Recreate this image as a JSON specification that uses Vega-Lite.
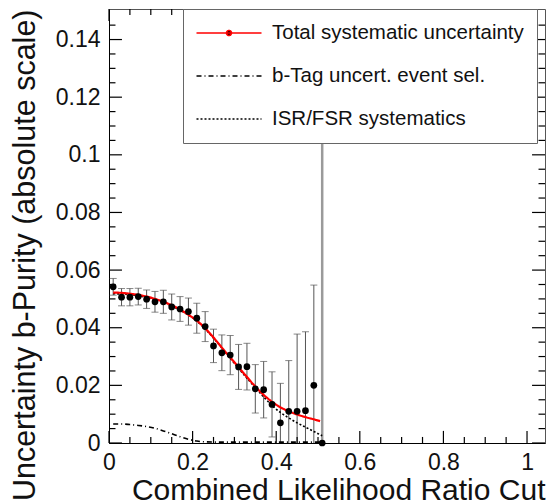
{
  "$schema": "https://vega.github.io/schema/vega-lite/v6.json",
  "width": 436,
  "height": 434,
  "autosize": "none",
  "padding": {"left": 109, "top": 9, "right": 4, "bottom": 61},
  "background": "white",
  "config": {
    "view": {"stroke": "#555", "strokeWidth": 1},
    "font": "Liberation Sans",
    "axis": {"labelFont": "Liberation Sans", "titleFont": "Liberation Sans", "grid": false}
  },
  "datasets": {
    "xticks": [
      {"v": 0, "kind": "major"}, {"v": 0.05, "kind": "minor"}, {"v": 0.1, "kind": "minor"}, {"v": 0.15, "kind": "minor"},
      {"v": 0.2, "kind": "major"}, {"v": 0.25, "kind": "minor"}, {"v": 0.3, "kind": "minor"}, {"v": 0.35, "kind": "minor"},
      {"v": 0.4, "kind": "major"}, {"v": 0.45, "kind": "minor"}, {"v": 0.5, "kind": "minor"}, {"v": 0.55, "kind": "minor"},
      {"v": 0.6, "kind": "major"}, {"v": 0.65, "kind": "minor"}, {"v": 0.7, "kind": "minor"}, {"v": 0.75, "kind": "minor"},
      {"v": 0.8, "kind": "major"}, {"v": 0.85, "kind": "minor"}, {"v": 0.9, "kind": "minor"}, {"v": 0.95, "kind": "minor"},
      {"v": 1.0, "kind": "major"}
    ],
    "yticks": [
      {"v": 0, "kind": "major"}, {"v": 0.005, "kind": "minor"}, {"v": 0.01, "kind": "minor"}, {"v": 0.015, "kind": "minor"},
      {"v": 0.02, "kind": "major"}, {"v": 0.025, "kind": "minor"}, {"v": 0.03, "kind": "minor"}, {"v": 0.035, "kind": "minor"},
      {"v": 0.04, "kind": "major"}, {"v": 0.045, "kind": "minor"}, {"v": 0.05, "kind": "minor"}, {"v": 0.055, "kind": "minor"},
      {"v": 0.06, "kind": "major"}, {"v": 0.065, "kind": "minor"}, {"v": 0.07, "kind": "minor"}, {"v": 0.075, "kind": "minor"},
      {"v": 0.08, "kind": "major"}, {"v": 0.085, "kind": "minor"}, {"v": 0.09, "kind": "minor"}, {"v": 0.095, "kind": "minor"},
      {"v": 0.1, "kind": "major"}, {"v": 0.105, "kind": "minor"}, {"v": 0.11, "kind": "minor"}, {"v": 0.115, "kind": "minor"},
      {"v": 0.12, "kind": "major"}, {"v": 0.125, "kind": "minor"}, {"v": 0.13, "kind": "minor"}, {"v": 0.135, "kind": "minor"},
      {"v": 0.14, "kind": "major"}, {"v": 0.145, "kind": "minor"}
    ],
    "points": [
      {"x": 0.01, "y": 0.0542, "lo": 0.0513, "hi": 0.0571},
      {"x": 0.03, "y": 0.0506, "lo": 0.0476, "hi": 0.0536},
      {"x": 0.05, "y": 0.0506, "lo": 0.0476, "hi": 0.0536},
      {"x": 0.07, "y": 0.0508, "lo": 0.0479, "hi": 0.0537},
      {"x": 0.09, "y": 0.0499, "lo": 0.0467, "hi": 0.0531},
      {"x": 0.11, "y": 0.049, "lo": 0.0454, "hi": 0.0526},
      {"x": 0.13, "y": 0.049, "lo": 0.045, "hi": 0.053},
      {"x": 0.15, "y": 0.0472, "lo": 0.0427, "hi": 0.0517},
      {"x": 0.17, "y": 0.0465, "lo": 0.0422, "hi": 0.0508},
      {"x": 0.19, "y": 0.0456, "lo": 0.0409, "hi": 0.0503},
      {"x": 0.21, "y": 0.0433, "lo": 0.0381, "hi": 0.0485},
      {"x": 0.23, "y": 0.0404, "lo": 0.0352, "hi": 0.0456},
      {"x": 0.25, "y": 0.0337, "lo": 0.0279, "hi": 0.0395},
      {"x": 0.27, "y": 0.0313, "lo": 0.0251, "hi": 0.0375},
      {"x": 0.29, "y": 0.0305, "lo": 0.0237, "hi": 0.0373},
      {"x": 0.31, "y": 0.0264, "lo": 0.0186, "hi": 0.0342},
      {"x": 0.33, "y": 0.0265, "lo": 0.0184, "hi": 0.0346},
      {"x": 0.35, "y": 0.0188, "lo": 0.0104, "hi": 0.0272},
      {"x": 0.37, "y": 0.0185, "lo": 0.0087, "hi": 0.0283},
      {"x": 0.39, "y": 0.0134, "lo": 0.0021, "hi": 0.0247},
      {"x": 0.41, "y": 0.007, "lo": -0.0067, "hi": 0.0207},
      {"x": 0.43, "y": 0.011, "lo": -0.0066, "hi": 0.0286},
      {"x": 0.45, "y": 0.011, "lo": -0.0158, "hi": 0.0378},
      {"x": 0.47, "y": 0.0112, "lo": -0.0162, "hi": 0.0386},
      {"x": 0.49, "y": 0.02, "lo": -0.0148, "hi": 0.0548},
      {"x": 0.51, "y": 0.0, "lo": -0.2, "hi": 0.2}
    ],
    "curves": [
      {"series": "ISR/FSR systematics", "x": 0.01, "y": 0.0518},
      {"series": "ISR/FSR systematics", "x": 0.05, "y": 0.0515},
      {"series": "ISR/FSR systematics", "x": 0.09, "y": 0.0505},
      {"series": "ISR/FSR systematics", "x": 0.13, "y": 0.0488},
      {"series": "ISR/FSR systematics", "x": 0.17, "y": 0.0461},
      {"series": "ISR/FSR systematics", "x": 0.21, "y": 0.0423},
      {"series": "ISR/FSR systematics", "x": 0.25, "y": 0.0364},
      {"series": "ISR/FSR systematics", "x": 0.29, "y": 0.0294},
      {"series": "ISR/FSR systematics", "x": 0.33, "y": 0.0225},
      {"series": "ISR/FSR systematics", "x": 0.35, "y": 0.0192},
      {"series": "ISR/FSR systematics", "x": 0.37, "y": 0.016},
      {"series": "ISR/FSR systematics", "x": 0.39, "y": 0.013},
      {"series": "ISR/FSR systematics", "x": 0.41, "y": 0.0106},
      {"series": "ISR/FSR systematics", "x": 0.43, "y": 0.0087},
      {"series": "ISR/FSR systematics", "x": 0.45, "y": 0.007},
      {"series": "ISR/FSR systematics", "x": 0.47, "y": 0.0055},
      {"series": "ISR/FSR systematics", "x": 0.49, "y": 0.004},
      {"series": "ISR/FSR systematics", "x": 0.51, "y": 0.0025},
      {"series": "b-Tag uncert. event sel.", "x": 0.01, "y": 0.0066},
      {"series": "b-Tag uncert. event sel.", "x": 0.03, "y": 0.0066},
      {"series": "b-Tag uncert. event sel.", "x": 0.05, "y": 0.0064},
      {"series": "b-Tag uncert. event sel.", "x": 0.07, "y": 0.0061},
      {"series": "b-Tag uncert. event sel.", "x": 0.09, "y": 0.0057},
      {"series": "b-Tag uncert. event sel.", "x": 0.11, "y": 0.0051},
      {"series": "b-Tag uncert. event sel.", "x": 0.13, "y": 0.0042},
      {"series": "b-Tag uncert. event sel.", "x": 0.15, "y": 0.0032},
      {"series": "b-Tag uncert. event sel.", "x": 0.17, "y": 0.0022},
      {"series": "b-Tag uncert. event sel.", "x": 0.19, "y": 0.0013},
      {"series": "b-Tag uncert. event sel.", "x": 0.21, "y": 0.0007},
      {"series": "b-Tag uncert. event sel.", "x": 0.23, "y": 0.0004},
      {"series": "b-Tag uncert. event sel.", "x": 0.27, "y": 0.0003},
      {"series": "b-Tag uncert. event sel.", "x": 0.35, "y": 0.0003},
      {"series": "b-Tag uncert. event sel.", "x": 0.43, "y": 0.0003},
      {"series": "b-Tag uncert. event sel.", "x": 0.51, "y": 0.0003},
      {"series": "Total systematic uncertainty", "x": 0.01, "y": 0.0522},
      {"series": "Total systematic uncertainty", "x": 0.03, "y": 0.0521},
      {"series": "Total systematic uncertainty", "x": 0.05, "y": 0.0518},
      {"series": "Total systematic uncertainty", "x": 0.07, "y": 0.0514},
      {"series": "Total systematic uncertainty", "x": 0.09, "y": 0.0508},
      {"series": "Total systematic uncertainty", "x": 0.11, "y": 0.05},
      {"series": "Total systematic uncertainty", "x": 0.13, "y": 0.049},
      {"series": "Total systematic uncertainty", "x": 0.15, "y": 0.0478},
      {"series": "Total systematic uncertainty", "x": 0.17, "y": 0.0463},
      {"series": "Total systematic uncertainty", "x": 0.19, "y": 0.0445},
      {"series": "Total systematic uncertainty", "x": 0.21, "y": 0.0425},
      {"series": "Total systematic uncertainty", "x": 0.23, "y": 0.0398},
      {"series": "Total systematic uncertainty", "x": 0.25, "y": 0.0366},
      {"series": "Total systematic uncertainty", "x": 0.27, "y": 0.0331},
      {"series": "Total systematic uncertainty", "x": 0.29, "y": 0.0297},
      {"series": "Total systematic uncertainty", "x": 0.31, "y": 0.0263},
      {"series": "Total systematic uncertainty", "x": 0.33, "y": 0.0229},
      {"series": "Total systematic uncertainty", "x": 0.35, "y": 0.0196},
      {"series": "Total systematic uncertainty", "x": 0.37, "y": 0.0167},
      {"series": "Total systematic uncertainty", "x": 0.39, "y": 0.0143},
      {"series": "Total systematic uncertainty", "x": 0.41, "y": 0.0124},
      {"series": "Total systematic uncertainty", "x": 0.43, "y": 0.011},
      {"series": "Total systematic uncertainty", "x": 0.45, "y": 0.0099},
      {"series": "Total systematic uncertainty", "x": 0.47, "y": 0.009},
      {"series": "Total systematic uncertainty", "x": 0.49, "y": 0.0082},
      {"series": "Total systematic uncertainty", "x": 0.505, "y": 0.0076}
    ]
  },
  "layer": [
    {
      "data": {"name": "points"},
      "mark": {"type": "rule", "clip": true},
      "encoding": {
        "x": {"field": "x", "type": "quantitative", "scale": {"domain": [0, 1.043], "nice": false, "zero": false},
          "axis": {"orient": "bottom", "values": [0, 0.2, 0.4, 0.6, 0.8, 1], "format": "~g", "ticks": false, "domainColor": "#000", "domainWidth": 1, "labelFontSize": 23, "labelPadding": 8, "labelColor": "#111", "labelFlush": false, "labelOverlap": false, "title": "Combined Likelihood Ratio Cut", "titleFontSize": 30, "titleFontWeight": "normal", "titleColor": "#111", "titleAlign": "right", "titleAnchor": "end", "titleX": 436, "titleY": 56, "titleBaseline": "alphabetic"}},
        "y": {"field": "lo", "type": "quantitative", "scale": {"domain": [0, 0.1506], "nice": false, "zero": false},
          "axis": {"orient": "left", "values": [0, 0.02, 0.04, 0.06, 0.08, 0.1, 0.12, 0.14], "format": "~g", "ticks": false, "domainColor": "#000", "domainWidth": 1, "labelFontSize": 23, "labelPadding": 9, "labelColor": "#111", "labelFlush": false, "labelOverlap": false, "title": "Uncertainty b-Purity (absolute scale)", "titleFontSize": 30.5, "titleFontWeight": "normal", "titleColor": "#111", "titleAngle": -90, "titleAlign": "right", "titleBaseline": "top", "titleX": -99, "titleY": 0}},
        "y2": {"field": "hi"},
        "color": {"condition": {"test": "datum.hi > 0.1", "value": "#9a9a9a"}, "value": "#555"},
        "strokeWidth": {"condition": {"test": "datum.hi > 0.1", "value": 2.5}, "value": 1}
      }
    },
    {
      "data": {"name": "xticks"},
      "transform": [{"filter": "datum.kind === 'major'"}],
      "mark": {"type": "rule", "color": "#000", "strokeWidth": 1.2},
      "encoding": {"x": {"field": "v", "type": "quantitative"}, "y": {"datum": 0, "type": "quantitative"}, "y2": {"datum": 0.0042}}
    },
    {
      "data": {"name": "xticks"},
      "transform": [{"filter": "datum.kind === 'minor'"}],
      "mark": {"type": "rule", "color": "#000", "strokeWidth": 1.2},
      "encoding": {"x": {"field": "v", "type": "quantitative"}, "y": {"datum": 0, "type": "quantitative"}, "y2": {"datum": 0.0021}}
    },
    {
      "data": {"name": "xticks"},
      "transform": [{"filter": "datum.kind === 'major'"}],
      "mark": {"type": "rule", "color": "#000", "strokeWidth": 1.2},
      "encoding": {"x": {"field": "v", "type": "quantitative"}, "y": {"datum": 0.1506, "type": "quantitative"}, "y2": {"datum": 0.1464}}
    },
    {
      "data": {"name": "xticks"},
      "transform": [{"filter": "datum.kind === 'minor'"}],
      "mark": {"type": "rule", "color": "#000", "strokeWidth": 1.2},
      "encoding": {"x": {"field": "v", "type": "quantitative"}, "y": {"datum": 0.1506, "type": "quantitative"}, "y2": {"datum": 0.1485}}
    },
    {
      "data": {"name": "yticks"},
      "transform": [{"filter": "datum.kind === 'major'"}],
      "mark": {"type": "rule", "color": "#000", "strokeWidth": 1.2},
      "encoding": {"y": {"field": "v", "type": "quantitative"}, "x": {"datum": 0, "type": "quantitative"}, "x2": {"datum": 0.031}}
    },
    {
      "data": {"name": "yticks"},
      "transform": [{"filter": "datum.kind === 'minor'"}],
      "mark": {"type": "rule", "color": "#000", "strokeWidth": 1.2},
      "encoding": {"y": {"field": "v", "type": "quantitative"}, "x": {"datum": 0, "type": "quantitative"}, "x2": {"datum": 0.0155}}
    },
    {
      "data": {"name": "yticks"},
      "transform": [{"filter": "datum.kind === 'major'"}],
      "mark": {"type": "rule", "color": "#000", "strokeWidth": 1.2},
      "encoding": {"y": {"field": "v", "type": "quantitative"}, "x": {"datum": 1.043, "type": "quantitative"}, "x2": {"datum": 1.012}}
    },
    {
      "data": {"name": "yticks"},
      "transform": [{"filter": "datum.kind === 'minor'"}],
      "mark": {"type": "rule", "color": "#000", "strokeWidth": 1.2},
      "encoding": {"y": {"field": "v", "type": "quantitative"}, "x": {"datum": 1.043, "type": "quantitative"}, "x2": {"datum": 1.0275}}
    },
    {
      "data": {"name": "points"},
      "mark": {"type": "tick", "orient": "horizontal", "color": "#555", "thickness": 1, "size": 7, "clip": true},
      "encoding": {
        "x": {"field": "x", "type": "quantitative"},
        "y": {"field": "lo", "type": "quantitative"}
      }
    },
    {
      "data": {"name": "points"},
      "mark": {"type": "tick", "orient": "horizontal", "color": "#555", "thickness": 1, "size": 7, "clip": true},
      "encoding": {
        "x": {"field": "x", "type": "quantitative"},
        "y": {"field": "hi", "type": "quantitative"}
      }
    },
    {
      "data": {"name": "curves"},
      "transform": [{"filter": "datum.series === 'ISR/FSR systematics'"}],
      "mark": {"type": "line", "strokeWidth": 1.6, "interpolate": "monotone"},
      "encoding": {
        "x": {"field": "x", "type": "quantitative"},
        "y": {"field": "y", "type": "quantitative"},
        "color": {"field": "series", "type": "nominal",
          "scale": {"domain": ["Total systematic uncertainty", "b-Tag uncert. event sel.", "ISR/FSR systematics"], "range": ["#ff0000", "#000000", "#000000"]},
          "legend": {"title": null, "orient": "none", "legendX": 74, "legendY": 0, "direction": "vertical", "symbolType": "M-3.25,0H3.25", "symbolSize": 400, "symbolOffset": 22, "symbolStrokeWidth": 1.6, "labelFontSize": 20.5, "labelFont": "Liberation Sans", "labelColor": "#111", "labelOffset": 32, "rowPadding": 21, "padding": 13, "fillColor": "white", "strokeColor": "#666", "labelLimit": 400, "zindex": 3,
            "encode": {"symbols": {"update": {"shape": {"signal": "datum.value === 'Total systematic uncertainty' ? 'M-3.25,0H3.25M0.25,0A0.25,0.25,0,1,1,-0.25,0A0.25,0.25,0,1,1,0.25,0Z' : 'M-3.25,0H3.25'"}, "fill": {"signal": "datum.value === 'Total systematic uncertainty' ? '#000' : 'transparent'"}}}}}},
        "strokeDash": {"field": "series", "type": "nominal",
          "scale": {"domain": ["Total systematic uncertainty", "b-Tag uncert. event sel.", "ISR/FSR systematics"], "range": [[1, 0], [5, 3, 1, 3], [2, 2]]},
          "legend": {"title": null, "orient": "none", "legendX": 74, "legendY": 0, "direction": "vertical", "symbolType": "M-3.25,0H3.25", "symbolSize": 400, "symbolOffset": 22, "symbolStrokeWidth": 1.6, "labelFontSize": 20.5, "labelFont": "Liberation Sans", "labelColor": "#111", "labelOffset": 32, "rowPadding": 21, "padding": 13, "fillColor": "white", "strokeColor": "#666", "labelLimit": 400, "zindex": 3,
            "encode": {"symbols": {"update": {"shape": {"signal": "datum.value === 'Total systematic uncertainty' ? 'M-3.25,0H3.25M0.25,0A0.25,0.25,0,1,1,-0.25,0A0.25,0.25,0,1,1,0.25,0Z' : 'M-3.25,0H3.25'"}, "fill": {"signal": "datum.value === 'Total systematic uncertainty' ? '#000' : 'transparent'"}}}}}}
      }
    },
    {
      "data": {"name": "curves"},
      "transform": [{"filter": "datum.series === 'b-Tag uncert. event sel.'"}],
      "mark": {"type": "line", "strokeWidth": 1.6, "interpolate": "monotone"},
      "encoding": {
        "x": {"field": "x", "type": "quantitative"},
        "y": {"field": "y", "type": "quantitative"},
        "color": {"field": "series", "type": "nominal"},
        "strokeDash": {"field": "series", "type": "nominal"}
      }
    },
    {
      "data": {"name": "curves"},
      "transform": [{"filter": "datum.series === 'Total systematic uncertainty'"}],
      "mark": {"type": "line", "strokeWidth": 2.2, "interpolate": "monotone"},
      "encoding": {
        "x": {"field": "x", "type": "quantitative"},
        "y": {"field": "y", "type": "quantitative"},
        "color": {"field": "series", "type": "nominal"},
        "strokeDash": {"field": "series", "type": "nominal"}
      }
    },
    {
      "data": {"name": "points"},
      "mark": {"type": "point", "shape": "circle", "filled": true, "color": "#000", "size": 45, "opacity": 1},
      "encoding": {
        "x": {"field": "x", "type": "quantitative"},
        "y": {"field": "y", "type": "quantitative"}
      }
    }
  ]
}
